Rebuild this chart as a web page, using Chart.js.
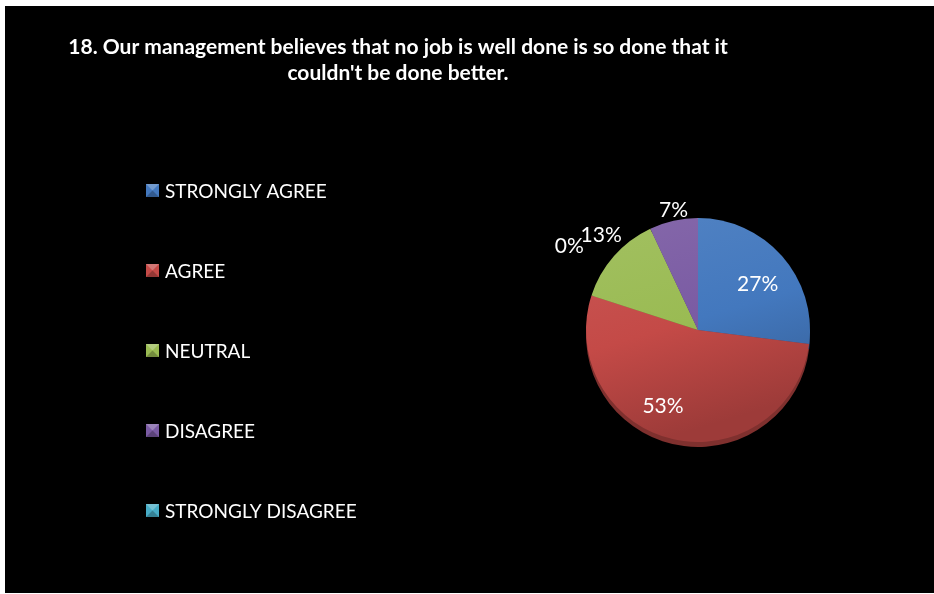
<!DOCTYPE html>
<html>
<head>
<meta charset="utf-8">
<script src="https://cdn.jsdelivr.net/npm/chart.js@4.4.1/dist/chart.umd.min.js"></script>
<style>
  html, body { margin: 0; padding: 0; background: #fff; }
  canvas { display: block; }
</style>
</head>
<body>
<canvas id="surveyPie" width="934" height="594"></canvas>
<script>
const categories = ["STRONGLY AGREE", "AGREE", "NEUTRAL", "DISAGREE", "STRONGLY DISAGREE"];
const percentages = [27, 53, 13, 7, 0];
const titleLines = [
  "18. Our management believes that no job is well done is so done that it",
  "couldn't be done better."
];
const sliceColors = ["#4378be", "#c44a47", "#9abb53", "#7a5ba3", "#47acc6"];

// where each percentage sits: extra turn (deg, clockwise) and distance in radii
const labelPlacement = [
  { turn: 4, dist: 0.67 },
  { turn: 12, dist: 0.75 },
  { turn: 3, dist: 1.21 },
  { turn: 1, dist: 1.09 },
  { turn: -57, dist: 1.37 }
];

const FONT = "Lato, 'Open Sans', sans-serif";

function shade(hex, amt) {
  const n = parseInt(hex.slice(1), 16);
  let r = (n >> 16) & 255, g = (n >> 8) & 255, b = n & 255;
  const f = c => Math.max(0, Math.min(255, Math.round(amt >= 0 ? c + (255 - c) * amt : c * (1 + amt))));
  return `rgb(${f(r)},${f(g)},${f(b)})`;
}

function sliceFill(context) {
  const base = sliceColors[context.dataIndex];
  const area = context.chart.chartArea;
  if (!area) return base;
  const g = context.chart.ctx.createLinearGradient(area.left, area.top, area.right * 0.3 + area.left * 0.7, area.bottom);
  g.addColorStop(0, shade(base, 0.08));
  g.addColorStop(0.55, base);
  g.addColorStop(1, shade(base, -0.2));
  return g;
}

const frame = {
  id: "frame",
  beforeDraw(chart) {
    const c = chart.ctx;
    c.save();
    c.fillStyle = "#fff";
    c.fillRect(0, 0, chart.width, chart.height);
    c.fillStyle = "#000";
    c.fillRect(5, 6, chart.width - 5, chart.height - 7);
    c.restore();
  }
};

// darker copy of each slice pushed down a few px gives the pie some thickness
const rim = {
  id: "rim",
  beforeDatasetsDraw(chart) {
    const c = chart.ctx;
    chart.getDatasetMeta(0).data.forEach((arc, i) => {
      if (arc.endAngle - arc.startAngle <= 0) return;
      c.save();
      c.translate(0, 5);
      c.fillStyle = shade(sliceColors[i], -0.35);
      c.beginPath();
      c.moveTo(arc.x, arc.y);
      c.arc(arc.x, arc.y, arc.outerRadius, arc.startAngle, arc.endAngle);
      c.closePath();
      c.fill();
      c.restore();
    });
  }
};

const sliceLabels = {
  id: "sliceLabels",
  afterDatasetsDraw(chart) {
    const c = chart.ctx;
    const values = chart.data.datasets[0].data;
    c.save();
    c.fillStyle = "#fff";
    c.font = `21px ${FONT}`;
    c.textAlign = "center";
    c.textBaseline = "middle";
    chart.getDatasetMeta(0).data.forEach((arc, i) => {
      const p = labelPlacement[i];
      const a = (arc.startAngle + arc.endAngle) / 2 + p.turn * Math.PI / 180;
      const d = arc.outerRadius * p.dist;
      c.fillText(values[i] + "%", arc.x + Math.cos(a) * d, arc.y + Math.sin(a) * d);
    });
    c.restore();
  }
};

const sideLegend = {
  id: "sideLegend",
  afterDraw(chart) {
    const c = chart.ctx;
    const x = 146, top = 184, step = 80, s = 13;
    c.save();
    c.font = `19px ${FONT}`;
    c.textBaseline = "middle";
    chart.data.labels.forEach((label, i) => {
      const y = top + i * step;
      const col = sliceColors[i];
      c.fillStyle = col;
      c.fillRect(x, y, s, s);
      // bevelled square: lighter top wedge, darker bottom wedge
      c.fillStyle = shade(col, 0.25);
      c.beginPath(); c.moveTo(x, y); c.lineTo(x + s, y); c.lineTo(x + s / 2, y + s / 2); c.fill();
      c.fillStyle = shade(col, -0.25);
      c.beginPath(); c.moveTo(x, y + s); c.lineTo(x + s, y + s); c.lineTo(x + s / 2, y + s / 2); c.fill();
      c.fillStyle = "#fff";
      c.fillText(label, x + 19, y + s / 2 + 1);
    });
    c.restore();
  }
};

const heading = {
  id: "heading",
  afterDraw(chart) {
    const c = chart.ctx;
    c.save();
    c.fillStyle = "#fff";
    c.font = `bold 21px ${FONT}`;
    c.textAlign = "center";
    c.textBaseline = "alphabetic";
    titleLines.forEach((line, i) => c.fillText(line, 398, 54 + i * 26));
    c.restore();
  }
};

new Chart(document.getElementById("surveyPie"), {
  type: "pie",
  data: {
    labels: categories,
    datasets: [{
      data: percentages,
      backgroundColor: sliceFill,
      borderWidth: 0,
      hoverOffset: 0,
      offset: 0
    }]
  },
  options: {
    responsive: false,
    animation: false,
    events: [],
    radius: 112,
    layout: { padding: { left: 586, right: 124, top: 218, bottom: 152 } },
    plugins: {
      legend: { display: false },
      title: { display: false },
      tooltip: { enabled: false }
    }
  },
  plugins: [frame, rim, sliceLabels, sideLegend, heading]
});
</script>
</body>
</html>
